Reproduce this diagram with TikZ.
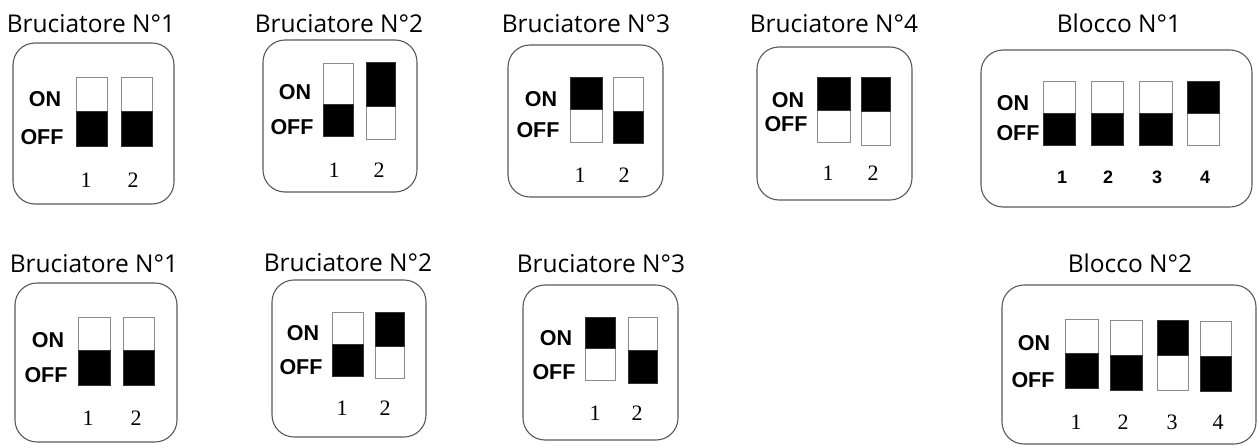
\documentclass[tikz,border=0pt]{standalone}
\usepackage{fontspec}
\setmainfont{Open Sans}
\newfontfamily\swfont{Liberation Sans}
\newfontfamily\numfont{Liberation Serif}

\begin{document}
\begin{tikzpicture}[
    x=1pt,
    y=-1pt,
    panel/.style={draw=black!65, line width=1.1pt, rounded corners=22pt},
    swcase/.style={draw=black!45, line width=0.9pt, fill=white},
    swlever/.style={fill=black, draw=black!80, line width=0.5pt},
    title/.style={font=\fontsize{24.5}{28}\selectfont, anchor=base, inner sep=0pt},
    lab/.style={font=\swfont\bfseries\fontsize{21.5}{24}\selectfont, inner sep=0pt},
    num/.style={font=\numfont\fontsize{22}{26}\selectfont, inner sep=0pt},
    numb/.style={font=\swfont\bfseries\fontsize{18}{22}\selectfont, inner sep=0pt}
  ]
    \useasboundingbox (0,0) rectangle (1257,447);
    % titles
    \node[title] (t1) at (91,32) {Bruciatore N°1};
    \node[title] (t2) at (339,32) {Bruciatore N°2};
    \node[title] (t3) at (586,32) {Bruciatore N°3};
    \node[title] (t4) at (834,32) {Bruciatore N°4};
    \node[title] (t5) at (1119,32) {Blocco N°1};
    \node[title] (t6) at (94,272) {Bruciatore N°1};
    \node[title] (t7) at (348,271) {Bruciatore N°2};
    \node[title] (t8) at (601,272) {Bruciatore N°3};
    \node[title] (t9) at (1130,272) {Blocco N°2};
    % panels
    \draw[panel] (13,43) rectangle (174,204);
    \draw[panel] (263,40) rectangle (417,192);
    \draw[panel] (508,45) rectangle (663,197);
    \draw[panel] (757,47) rectangle (912,200);
    \draw[panel] (981,50) rectangle (1252,207);
    \draw[panel] (15,283) rectangle (177,442);
    \draw[panel] (272,280) rectangle (426,437);
    \draw[panel] (523,285) rectangle (678,440);
    \draw[panel] (1002,285) rectangle (1256,444);
    % switches set to OFF
    \foreach \xa/\xb/\ya/\ym/\yb in {76/107/77/111/146, 121/152/77/111/146,
        323/353/63/104/136, 613/643/77/111/143,
        1043/1075/81/113/145, 1091/1123/81/113/145, 1139/1172/81/113/145,
        78/110/317/350/385, 123/154/317/350/385, 332/363/312/344/376,
        628/657/317/350/383, 1065/1098/319/353/388, 1110/1142/320/355/390,
        1200/1231/321/356/391} {
      \draw[swcase] (\xa,\ya) rectangle (\xb,\yb);
      \fill[swlever] (\xa,\ym) rectangle (\xb,\yb);
    }
    % switches set to ON
    \foreach \xa/\xb/\ya/\ym/\yb in {366/395/62/106/139, 570/602/77/109/142,
        817/850/77/110/142, 861/890/77/111/145, 1187/1219/81/113/145,
        375/404/312/346/378, 585/615/317/348/380, 1157/1188/320/355/390} {
      \draw[swcase] (\xa,\ya) rectangle (\xb,\yb);
      \fill[swlever] (\xa,\ya) rectangle (\xb,\ym);
    }
    % ON / OFF labels
    \foreach \i/\xo/\yo/\xf/\yf in {1/45/99/42/137, 2/295/92/292/127,
        3/541/99/538/130, 4/788/100/786/124, 5/1013/103/1018/133,
        6/48/340/46/375, 7/303/333/301/367, 8/556/338/554/372,
        9/1034/343/1033/380} {
      \node[lab] (on\i) at (\xo,\yo) {ON};
      \node[lab] (off\i) at (\xf,\yf) {OFF};
    }
    % switch numbers
    \node[num] (n1a) at (86,180) {1};
    \node[num] (n1b) at (133,180) {2};
    \node[num] (n2a) at (334,170) {1};
    \node[num] (n2b) at (379,170) {2};
    \node[num] (n3a) at (580,175) {1};
    \node[num] (n3b) at (624,175) {2};
    \node[num] (n4a) at (828,173) {1};
    \node[num] (n4b) at (873,173) {2};
    \node[numb] (n5a) at (1062,177) {1};
    \node[numb] (n5b) at (1108,177) {2};
    \node[numb] (n5c) at (1157,177) {3};
    \node[numb] (n5d) at (1205,177) {4};
    \node[num] (n6a) at (88,418) {1};
    \node[num] (n6b) at (136,418) {2};
    \node[num] (n7a) at (342,408) {1};
    \node[num] (n7b) at (385,408) {2};
    \node[num] (n8a) at (595,413) {1};
    \node[num] (n8b) at (637,413) {2};
    \node[num] (n9a) at (1076,422) {1};
    \node[num] (n9b) at (1123,422) {2};
    \node[num] (n9c) at (1172,422) {3};
    \node[num] (n9d) at (1218,422) {4};
  \end{tikzpicture}
\end{document}
